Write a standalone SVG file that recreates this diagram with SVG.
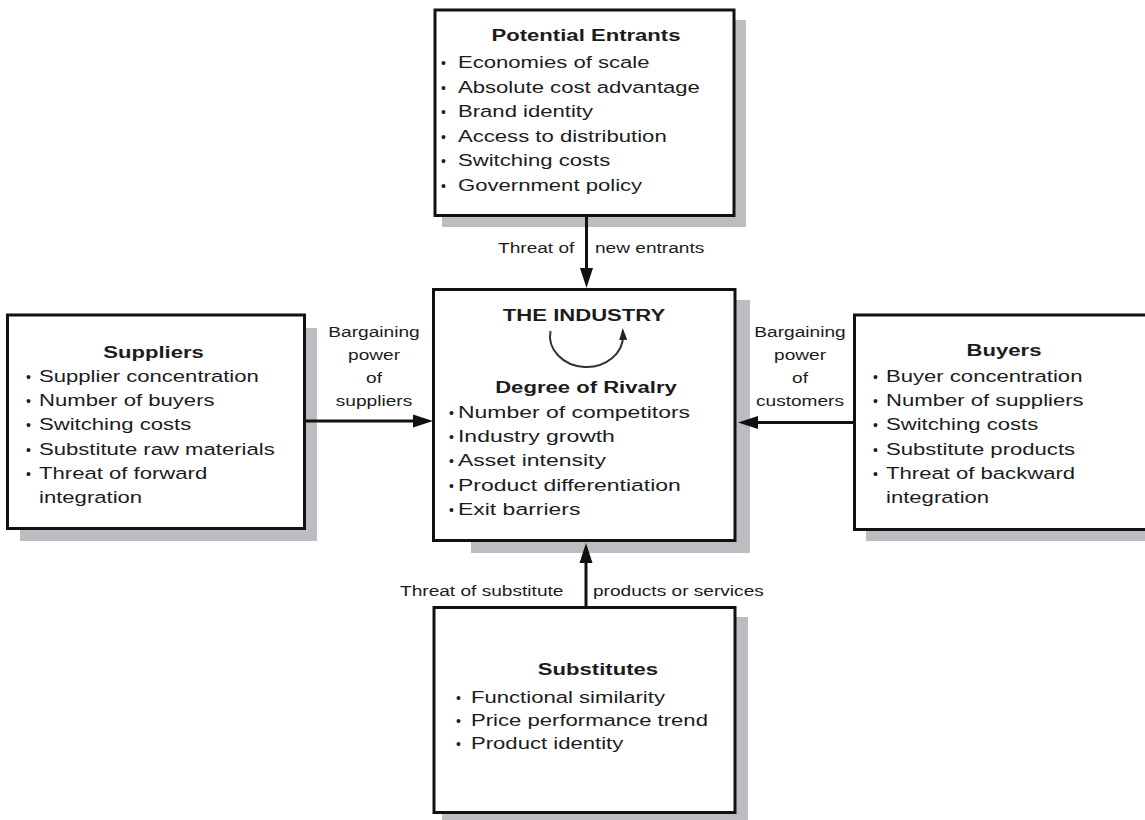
<svg xmlns="http://www.w3.org/2000/svg" width="1145" height="820" viewBox="0 0 1145 820">
  <style>
    .shadow { fill: #bdbdc1; }
    .box { fill: #ffffff; stroke: #111111; stroke-width: 3; }
    text { font-family: "Liberation Sans", Arial, Helvetica, sans-serif; fill: #1c1c1c; }
    .t { font-size: 17px; }
    .h { font-size: 17px; font-weight: bold; text-anchor: middle; }
    .b { font-size: 14px; }
    .lbl { font-size: 14.7px; }
    .mid { text-anchor: middle; }
    .edge { stroke: #111111; stroke-width: 3; fill: none; }
    .cycle { stroke: #333333; stroke-width: 2; fill: none; }
  </style>
  <defs>
    <marker id="head" markerUnits="userSpaceOnUse" markerWidth="20" markerHeight="14" viewBox="0 0 20 14" refX="10" refY="7" orient="auto">
      <path d="M0,0.5 L20,7 L0,13.5 z" fill="#111111"/>
    </marker>
    <marker id="headSmall" markerUnits="userSpaceOnUse" markerWidth="12" markerHeight="8" viewBox="0 0 12 8" refX="5" refY="4" orient="auto">
      <path d="M0,0 L12,4 L0,8 z" fill="#222222"/>
    </marker>
  </defs>

  <!-- drop shadows -->
  <g id="shadows">
    <rect class="shadow" x="442" y="20" width="304" height="207"/>
    <rect class="shadow" x="471" y="300" width="279" height="253"/>
    <rect class="shadow" x="20" y="328" width="297" height="213"/>
    <rect class="shadow" x="866" y="328" width="300" height="213"/>
    <rect class="shadow" x="442" y="617" width="306" height="210"/>
  </g>

  <!-- connectors -->
  <g id="connectors">
    <line class="edge" x1="586.5" y1="216" x2="586.5" y2="278" marker-end="url(#head)"/>
    <line class="edge" x1="586" y1="607" x2="586" y2="553" marker-end="url(#head)"/>
    <line class="edge" x1="304" y1="421" x2="423" y2="421" marker-end="url(#head)"/>
    <line class="edge" x1="854" y1="422.5" x2="748" y2="422.5" marker-end="url(#head)"/>
    <text class="lbl" transform="translate(498,253) scale(1.3,1)">Threat of</text>
    <text class="lbl" transform="translate(595,253) scale(1.3,1)">new entrants</text>
    <text class="lbl" transform="translate(400,596) scale(1.3,1)">Threat of substitute</text>
    <text class="lbl" transform="translate(593,596) scale(1.3,1)">products or services</text>
    <text class="lbl mid" transform="translate(374,337) scale(1.3,1)">Bargaining</text>
    <text class="lbl mid" transform="translate(374,360) scale(1.3,1)">power</text>
    <text class="lbl mid" transform="translate(374,383) scale(1.3,1)">of</text>
    <text class="lbl mid" transform="translate(374,406) scale(1.3,1)">suppliers</text>
    <text class="lbl mid" transform="translate(800,337) scale(1.3,1)">Bargaining</text>
    <text class="lbl mid" transform="translate(800,360) scale(1.3,1)">power</text>
    <text class="lbl mid" transform="translate(800,383) scale(1.3,1)">of</text>
    <text class="lbl mid" transform="translate(800,406) scale(1.3,1)">customers</text>
  </g>

  <!-- potential entrants -->
  <g id="entrants">
    <rect class="box" x="435" y="10" width="299" height="205.5"/>
    <text class="h" transform="translate(586,41) scale(1.3,1)">Potential Entrants</text>
    <text class="b" x="441" y="68">•</text>
    <text class="t" transform="translate(458,68) scale(1.3,1)">Economies of scale</text>
    <text class="b" x="441" y="93">•</text>
    <text class="t" transform="translate(458,93) scale(1.3,1)">Absolute cost advantage</text>
    <text class="b" x="441" y="117">•</text>
    <text class="t" transform="translate(458,117) scale(1.3,1)">Brand identity</text>
    <text class="b" x="441" y="142">•</text>
    <text class="t" transform="translate(458,142) scale(1.3,1)">Access to distribution</text>
    <text class="b" x="441" y="166">•</text>
    <text class="t" transform="translate(458,166) scale(1.3,1)">Switching costs</text>
    <text class="b" x="441" y="191">•</text>
    <text class="t" transform="translate(458,191) scale(1.3,1)">Government policy</text>
  </g>

  <!-- the industry -->
  <g id="industry">
    <rect class="box" x="433.5" y="289.5" width="301.5" height="251"/>
    <text class="h" transform="translate(584,321) scale(1.3,1)">THE INDUSTRY</text>
    <path class="cycle" d="M 550.5 331 A 36.5 31 0 1 0 623 335" marker-end="url(#headSmall)"/>
    <text class="h" transform="translate(586,393) scale(1.3,1)">Degree of Rivalry</text>
    <text class="b" x="449" y="417.5">•</text>
    <text class="t" transform="translate(458,417.5) scale(1.35,1)">Number of competitors</text>
    <text class="b" x="449" y="442">•</text>
    <text class="t" transform="translate(458,442) scale(1.35,1)">Industry growth</text>
    <text class="b" x="449" y="466">•</text>
    <text class="t" transform="translate(458,466) scale(1.35,1)">Asset intensity</text>
    <text class="b" x="449" y="490.5">•</text>
    <text class="t" transform="translate(458,490.5) scale(1.35,1)">Product differentiation</text>
    <text class="b" x="449" y="515">•</text>
    <text class="t" transform="translate(458,515) scale(1.35,1)">Exit barriers</text>
  </g>

  <!-- suppliers -->
  <g id="suppliers">
    <rect class="box" x="7.5" y="315" width="297" height="213.5"/>
    <text class="h" transform="translate(153.5,358) scale(1.3,1)">Suppliers</text>
    <text class="b" x="26" y="382">•</text>
    <text class="t" transform="translate(39,382) scale(1.3,1)">Supplier concentration</text>
    <text class="b" x="26" y="406">•</text>
    <text class="t" transform="translate(39,406) scale(1.3,1)">Number of buyers</text>
    <text class="b" x="26" y="430">•</text>
    <text class="t" transform="translate(39,430) scale(1.3,1)">Switching costs</text>
    <text class="b" x="26" y="455">•</text>
    <text class="t" transform="translate(39,455) scale(1.3,1)">Substitute raw materials</text>
    <text class="b" x="26" y="479">•</text>
    <text class="t" transform="translate(39,479) scale(1.3,1)">Threat of forward</text>
    <text class="t" transform="translate(39,503) scale(1.3,1)">integration</text>
  </g>

  <!-- buyers -->
  <g id="buyers">
    <rect class="box" x="854.5" y="315" width="310" height="214.5"/>
    <text class="h" transform="translate(1004,356) scale(1.3,1)">Buyers</text>
    <text class="b" x="873" y="382">•</text>
    <text class="t" transform="translate(886,382) scale(1.3,1)">Buyer concentration</text>
    <text class="b" x="873" y="406">•</text>
    <text class="t" transform="translate(886,406) scale(1.3,1)">Number of suppliers</text>
    <text class="b" x="873" y="430">•</text>
    <text class="t" transform="translate(886,430) scale(1.3,1)">Switching costs</text>
    <text class="b" x="873" y="455">•</text>
    <text class="t" transform="translate(886,455) scale(1.3,1)">Substitute products</text>
    <text class="b" x="873" y="479">•</text>
    <text class="t" transform="translate(886,479) scale(1.3,1)">Threat of backward</text>
    <text class="t" transform="translate(886,503) scale(1.3,1)">integration</text>
  </g>

  <!-- substitutes -->
  <g id="substitutes">
    <rect class="box" x="434" y="607.5" width="301" height="205"/>
    <text class="h" transform="translate(598,675) scale(1.3,1)">Substitutes</text>
    <text class="b" x="456" y="703">•</text>
    <text class="t" transform="translate(471,703) scale(1.3,1)">Functional similarity</text>
    <text class="b" x="456" y="726">•</text>
    <text class="t" transform="translate(471,726) scale(1.3,1)">Price performance trend</text>
    <text class="b" x="456" y="749">•</text>
    <text class="t" transform="translate(471,749) scale(1.3,1)">Product identity</text>
  </g>
</svg>
